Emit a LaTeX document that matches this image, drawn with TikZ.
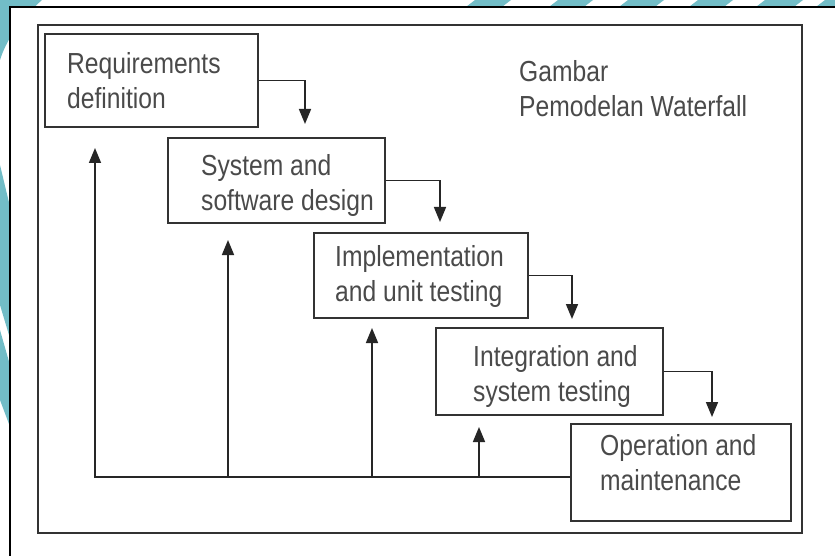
\documentclass[tikz,border=0pt]{standalone}
\usepackage{fontspec}
\setmainfont[FakeStretch=0.85]{Liberation Sans}
\usetikzlibrary{arrows.meta}
\definecolor{teal1}{HTML}{72BDC7}
\definecolor{boxline}{HTML}{333333}
\definecolor{txt}{HTML}{4A4A4A}
\tikzset{
  stage/.style={draw=boxline, line width=1.6pt, rectangle, inner sep=0pt, fill=white},
  lbl/.style={anchor=base west, align=left, inner sep=0pt, text=txt,
    font=\fontsize{29}{35}\selectfont},
  arr/.style={draw=black!85, line width=1.6pt, -{Triangle[length=15pt,width=12pt]}},
  ln/.style={draw=black!85, line width=1.6pt}
}
\begin{document}
\begin{tikzpicture}[x=1pt,y=-1pt]
\useasboundingbox (0,0) rectangle (835,556);
% teal background decoration
\fill[teal1] (0,0) -- (42,0) .. controls (25,15) and (8,35) .. (0,60) -- cycle;
\fill[teal1] (0,165) -- (12,215) -- (12,345) -- (0,305) -- cycle;
\fill[teal1] (0,330) -- (12,372) -- (12,432) -- (0,400) -- cycle;
\foreach \a/\b in {462/498,545/580,615/651,685/720,752/790,812/850}{
  \fill[teal1] (\a,10) -- (\b,10) -- (\b+13,0) -- (\a+13,0) -- cycle;
}
% outer frame
\fill[white] (10,7) rectangle (835,556);
\draw[black, line width=1.6pt] (10,556) -- (10,7) -- (835,7);
% inner frame
\draw[boxline, line width=1.8pt] (38,25) rectangle (802,533);
% stages
\node[stage, minimum width=213pt, minimum height=93pt] (b1) at (151.5,80.5) {};
\node[stage, minimum width=217pt, minimum height=85pt] (b2) at (276.5,180.5) {};
\node[stage, minimum width=214pt, minimum height=85pt] (b3) at (421,275.5) {};
\node[stage, minimum width=227pt, minimum height=87pt] (b4) at (549.5,371.5) {};
\node[stage, minimum width=220pt, minimum height=97pt] (b5) at (681,472.5) {};
% labels (anchor = baseline of the last line)
\node[lbl] (l1) at (67,109) {Requirements\\definition};
\node[lbl] (l2) at (201,211) {System and\\software design};
\node[lbl] (l3) at (335,301) {Implementation\\and unit testing};
\node[lbl] (l4) at (473,401) {Integration and\\system testing};
\node[lbl] (l5) at (600,490) {Operation and\\maintenance};
\node[lbl] (cap) at (519,117) {Gambar\\Pemodelan Waterfall};
% forward arrows
\coordinate (d1) at (305,124);
\coordinate (d2) at (440,222);
\coordinate (d3) at (572,319);
\coordinate (d4) at (712,417);
\draw[arr] (b1.east) -| (d1);
\draw[arr] (b2.east) -| (d2);
\draw[arr] (b3.east) -| (d3);
\draw[arr] (b4.east) -| (d4);
% feedback arrows
\coordinate (f1) at (95,477);
\coordinate (f2) at (228,477);
\coordinate (f3) at (372,477);
\coordinate (f4) at (479,477);
\coordinate (u1) at (95,148);
\coordinate (u2) at (228,240);
\coordinate (u3) at (372,328);
\coordinate (u4) at (479,427);
\draw[arr] (f1 -| b5.west) -- (f1) -- (u1);
\draw[arr] (f2) -- (u2);
\draw[arr] (f3) -- (u3);
\draw[arr] (f4) -- (u4);
\end{tikzpicture}
\end{document}
